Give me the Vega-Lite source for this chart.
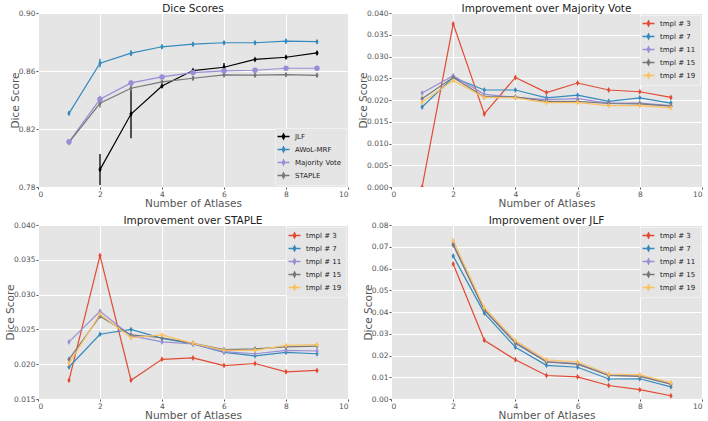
{
  "$schema": "https://vega.github.io/schema/vega-lite/v6.json",
  "padding": {"left": 5, "top": 3, "right": 0, "bottom": 0},
  "background": "white",
  "config": {
    "font": "DejaVu Sans",
    "view": {"fill": "#E5E5E5", "stroke": null},
    "axis": {"grid": true, "gridColor": "#FFFFFF", "gridWidth": 1, "domain": false, "tickColor": "#555555", "tickSize": 2, "labelColor": "#555555", "labelFont": "DejaVu Sans", "labelFontSize": 7.5, "labelPadding": 1, "labelOverlap": false, "titleFont": "DejaVu Sans", "titleFontSize": 10.5, "titleFontWeight": "normal", "titleColor": "#555555"},
    "title": {"font": "DejaVu Sans", "fontSize": 10.5, "fontWeight": "normal", "color": "#222222", "offset": -5},
    "legend": {"labelFont": "DejaVu Sans", "labelFontSize": 7, "labelColor": "#222222", "fillColor": "#E5E5E5", "strokeColor": "#F0F0F0", "padding": 4, "rowPadding": 2, "offset": 2, "cornerRadius": 0, "labelOffset": 7}
  },
  "datasets": {
    "dice": [
      {"method": "JLF", "n": 2, "score": 0.792, "lo": 0.7813, "hi": 0.8027},
      {"method": "JLF", "n": 3, "score": 0.8303, "lo": 0.8136, "hi": 0.847},
      {"method": "JLF", "n": 4, "score": 0.8497, "lo": 0.8487, "hi": 0.8507},
      {"method": "JLF", "n": 5, "score": 0.8603, "lo": 0.8595, "hi": 0.8611},
      {"method": "JLF", "n": 6, "score": 0.8626, "lo": 0.8596, "hi": 0.8656},
      {"method": "JLF", "n": 7, "score": 0.868, "lo": 0.8672, "hi": 0.8688},
      {"method": "JLF", "n": 8, "score": 0.8695, "lo": 0.869, "hi": 0.87},
      {"method": "JLF", "n": 9, "score": 0.8725, "lo": 0.8712, "hi": 0.8738},
      {"method": "AWoL-MRF", "n": 1, "score": 0.8308, "lo": 0.8293, "hi": 0.8323},
      {"method": "AWoL-MRF", "n": 2, "score": 0.8654, "lo": 0.8624, "hi": 0.8684},
      {"method": "AWoL-MRF", "n": 3, "score": 0.8723, "lo": 0.8703, "hi": 0.8743},
      {"method": "AWoL-MRF", "n": 4, "score": 0.8767, "lo": 0.8752, "hi": 0.8782},
      {"method": "AWoL-MRF", "n": 5, "score": 0.8785, "lo": 0.877, "hi": 0.88},
      {"method": "AWoL-MRF", "n": 6, "score": 0.8795, "lo": 0.8783, "hi": 0.8807},
      {"method": "AWoL-MRF", "n": 7, "score": 0.8795, "lo": 0.8783, "hi": 0.8807},
      {"method": "AWoL-MRF", "n": 8, "score": 0.8806, "lo": 0.879, "hi": 0.8822},
      {"method": "AWoL-MRF", "n": 9, "score": 0.8802, "lo": 0.879, "hi": 0.8814},
      {"method": "Majority Vote", "n": 1, "score": 0.8112, "lo": 0.81, "hi": 0.8124},
      {"method": "Majority Vote", "n": 2, "score": 0.8405, "lo": 0.838, "hi": 0.843},
      {"method": "Majority Vote", "n": 3, "score": 0.8518, "lo": 0.8503, "hi": 0.8533},
      {"method": "Majority Vote", "n": 4, "score": 0.8559, "lo": 0.8547, "hi": 0.8571},
      {"method": "Majority Vote", "n": 5, "score": 0.8589, "lo": 0.8577, "hi": 0.8601},
      {"method": "Majority Vote", "n": 6, "score": 0.8601, "lo": 0.8589, "hi": 0.8613},
      {"method": "Majority Vote", "n": 7, "score": 0.8605, "lo": 0.8593, "hi": 0.8617},
      {"method": "Majority Vote", "n": 8, "score": 0.8619, "lo": 0.8607, "hi": 0.8631},
      {"method": "Majority Vote", "n": 9, "score": 0.8619, "lo": 0.8607, "hi": 0.8631},
      {"method": "STAPLE", "n": 1, "score": 0.8107, "lo": 0.8094, "hi": 0.812},
      {"method": "STAPLE", "n": 2, "score": 0.8377, "lo": 0.8347, "hi": 0.8407},
      {"method": "STAPLE", "n": 3, "score": 0.8481, "lo": 0.8461, "hi": 0.8501},
      {"method": "STAPLE", "n": 4, "score": 0.8525, "lo": 0.8512, "hi": 0.8538},
      {"method": "STAPLE", "n": 5, "score": 0.855, "lo": 0.8535, "hi": 0.8565},
      {"method": "STAPLE", "n": 6, "score": 0.8573, "lo": 0.856, "hi": 0.8586},
      {"method": "STAPLE", "n": 7, "score": 0.8571, "lo": 0.8558, "hi": 0.8584},
      {"method": "STAPLE", "n": 8, "score": 0.8575, "lo": 0.8562, "hi": 0.8588},
      {"method": "STAPLE", "n": 9, "score": 0.857, "lo": 0.8557, "hi": 0.8583}
    ],
    "mv": [
      {"tmpl": "tmpl # 3", "n": 1, "v": 0.0}, {"tmpl": "tmpl # 3", "n": 2, "v": 0.0375}, {"tmpl": "tmpl # 3", "n": 3, "v": 0.0168}, {"tmpl": "tmpl # 3", "n": 4, "v": 0.0252}, {"tmpl": "tmpl # 3", "n": 5, "v": 0.0217}, {"tmpl": "tmpl # 3", "n": 6, "v": 0.0239}, {"tmpl": "tmpl # 3", "n": 7, "v": 0.0223}, {"tmpl": "tmpl # 3", "n": 8, "v": 0.0219}, {"tmpl": "tmpl # 3", "n": 9, "v": 0.0206},
      {"tmpl": "tmpl # 7", "n": 1, "v": 0.0184}, {"tmpl": "tmpl # 7", "n": 2, "v": 0.0252}, {"tmpl": "tmpl # 7", "n": 3, "v": 0.0223}, {"tmpl": "tmpl # 7", "n": 4, "v": 0.0223}, {"tmpl": "tmpl # 7", "n": 5, "v": 0.0205}, {"tmpl": "tmpl # 7", "n": 6, "v": 0.0211}, {"tmpl": "tmpl # 7", "n": 7, "v": 0.0197}, {"tmpl": "tmpl # 7", "n": 8, "v": 0.0205}, {"tmpl": "tmpl # 7", "n": 9, "v": 0.0193},
      {"tmpl": "tmpl # 11", "n": 1, "v": 0.0216}, {"tmpl": "tmpl # 11", "n": 2, "v": 0.0256}, {"tmpl": "tmpl # 11", "n": 3, "v": 0.0213}, {"tmpl": "tmpl # 11", "n": 4, "v": 0.0206}, {"tmpl": "tmpl # 11", "n": 5, "v": 0.0201}, {"tmpl": "tmpl # 11", "n": 6, "v": 0.0203}, {"tmpl": "tmpl # 11", "n": 7, "v": 0.0193}, {"tmpl": "tmpl # 11", "n": 8, "v": 0.0193}, {"tmpl": "tmpl # 11", "n": 9, "v": 0.0187},
      {"tmpl": "tmpl # 15", "n": 1, "v": 0.0203}, {"tmpl": "tmpl # 15", "n": 2, "v": 0.0252}, {"tmpl": "tmpl # 15", "n": 3, "v": 0.0207}, {"tmpl": "tmpl # 15", "n": 4, "v": 0.0207}, {"tmpl": "tmpl # 15", "n": 5, "v": 0.0197}, {"tmpl": "tmpl # 15", "n": 6, "v": 0.0197}, {"tmpl": "tmpl # 15", "n": 7, "v": 0.0192}, {"tmpl": "tmpl # 15", "n": 8, "v": 0.0191}, {"tmpl": "tmpl # 15", "n": 9, "v": 0.0186},
      {"tmpl": "tmpl # 19", "n": 1, "v": 0.0195}, {"tmpl": "tmpl # 19", "n": 2, "v": 0.0245}, {"tmpl": "tmpl # 19", "n": 3, "v": 0.0206}, {"tmpl": "tmpl # 19", "n": 4, "v": 0.0205}, {"tmpl": "tmpl # 19", "n": 5, "v": 0.0194}, {"tmpl": "tmpl # 19", "n": 6, "v": 0.0194}, {"tmpl": "tmpl # 19", "n": 7, "v": 0.0187}, {"tmpl": "tmpl # 19", "n": 8, "v": 0.0187}, {"tmpl": "tmpl # 19", "n": 9, "v": 0.0182}
    ],
    "staple": [
      {"tmpl": "tmpl # 3", "n": 1, "v": 0.0177}, {"tmpl": "tmpl # 3", "n": 2, "v": 0.0356}, {"tmpl": "tmpl # 3", "n": 3, "v": 0.0177}, {"tmpl": "tmpl # 3", "n": 4, "v": 0.0207}, {"tmpl": "tmpl # 3", "n": 5, "v": 0.0209}, {"tmpl": "tmpl # 3", "n": 6, "v": 0.0198}, {"tmpl": "tmpl # 3", "n": 7, "v": 0.0201}, {"tmpl": "tmpl # 3", "n": 8, "v": 0.0189}, {"tmpl": "tmpl # 3", "n": 9, "v": 0.0191},
      {"tmpl": "tmpl # 7", "n": 1, "v": 0.0196}, {"tmpl": "tmpl # 7", "n": 2, "v": 0.0243}, {"tmpl": "tmpl # 7", "n": 3, "v": 0.025}, {"tmpl": "tmpl # 7", "n": 4, "v": 0.0237}, {"tmpl": "tmpl # 7", "n": 5, "v": 0.0229}, {"tmpl": "tmpl # 7", "n": 6, "v": 0.0217}, {"tmpl": "tmpl # 7", "n": 7, "v": 0.0212}, {"tmpl": "tmpl # 7", "n": 8, "v": 0.0217}, {"tmpl": "tmpl # 7", "n": 9, "v": 0.0215},
      {"tmpl": "tmpl # 11", "n": 1, "v": 0.0232}, {"tmpl": "tmpl # 11", "n": 2, "v": 0.0276}, {"tmpl": "tmpl # 11", "n": 3, "v": 0.0241}, {"tmpl": "tmpl # 11", "n": 4, "v": 0.0232}, {"tmpl": "tmpl # 11", "n": 5, "v": 0.0229}, {"tmpl": "tmpl # 11", "n": 6, "v": 0.0218}, {"tmpl": "tmpl # 11", "n": 7, "v": 0.0215}, {"tmpl": "tmpl # 11", "n": 8, "v": 0.022}, {"tmpl": "tmpl # 11", "n": 9, "v": 0.0219},
      {"tmpl": "tmpl # 15", "n": 1, "v": 0.0207}, {"tmpl": "tmpl # 15", "n": 2, "v": 0.0269}, {"tmpl": "tmpl # 15", "n": 3, "v": 0.0242}, {"tmpl": "tmpl # 15", "n": 4, "v": 0.0238}, {"tmpl": "tmpl # 15", "n": 5, "v": 0.023}, {"tmpl": "tmpl # 15", "n": 6, "v": 0.0221}, {"tmpl": "tmpl # 15", "n": 7, "v": 0.0222}, {"tmpl": "tmpl # 15", "n": 8, "v": 0.0225}, {"tmpl": "tmpl # 15", "n": 9, "v": 0.0226},
      {"tmpl": "tmpl # 19", "n": 1, "v": 0.0201}, {"tmpl": "tmpl # 19", "n": 2, "v": 0.0272}, {"tmpl": "tmpl # 19", "n": 3, "v": 0.0238}, {"tmpl": "tmpl # 19", "n": 4, "v": 0.0242}, {"tmpl": "tmpl # 19", "n": 5, "v": 0.023}, {"tmpl": "tmpl # 19", "n": 6, "v": 0.022}, {"tmpl": "tmpl # 19", "n": 7, "v": 0.022}, {"tmpl": "tmpl # 19", "n": 8, "v": 0.0227}, {"tmpl": "tmpl # 19", "n": 9, "v": 0.0228}
    ],
    "jlf": [
      {"tmpl": "tmpl # 3", "n": 2, "v": 0.0621}, {"tmpl": "tmpl # 3", "n": 3, "v": 0.027}, {"tmpl": "tmpl # 3", "n": 4, "v": 0.018}, {"tmpl": "tmpl # 3", "n": 5, "v": 0.0108}, {"tmpl": "tmpl # 3", "n": 6, "v": 0.0102}, {"tmpl": "tmpl # 3", "n": 7, "v": 0.0062}, {"tmpl": "tmpl # 3", "n": 8, "v": 0.0043}, {"tmpl": "tmpl # 3", "n": 9, "v": 0.0015},
      {"tmpl": "tmpl # 7", "n": 2, "v": 0.0657}, {"tmpl": "tmpl # 7", "n": 3, "v": 0.0395}, {"tmpl": "tmpl # 7", "n": 4, "v": 0.0238}, {"tmpl": "tmpl # 7", "n": 5, "v": 0.0155}, {"tmpl": "tmpl # 7", "n": 6, "v": 0.0146}, {"tmpl": "tmpl # 7", "n": 7, "v": 0.0092}, {"tmpl": "tmpl # 7", "n": 8, "v": 0.0093}, {"tmpl": "tmpl # 7", "n": 9, "v": 0.0056},
      {"tmpl": "tmpl # 11", "n": 2, "v": 0.0715}, {"tmpl": "tmpl # 11", "n": 3, "v": 0.0412}, {"tmpl": "tmpl # 11", "n": 4, "v": 0.0262}, {"tmpl": "tmpl # 11", "n": 5, "v": 0.0172}, {"tmpl": "tmpl # 11", "n": 6, "v": 0.0163}, {"tmpl": "tmpl # 11", "n": 7, "v": 0.011}, {"tmpl": "tmpl # 11", "n": 8, "v": 0.0106}, {"tmpl": "tmpl # 11", "n": 9, "v": 0.007},
      {"tmpl": "tmpl # 15", "n": 2, "v": 0.0708}, {"tmpl": "tmpl # 15", "n": 3, "v": 0.0408}, {"tmpl": "tmpl # 15", "n": 4, "v": 0.0256}, {"tmpl": "tmpl # 15", "n": 5, "v": 0.017}, {"tmpl": "tmpl # 15", "n": 6, "v": 0.016}, {"tmpl": "tmpl # 15", "n": 7, "v": 0.0108}, {"tmpl": "tmpl # 15", "n": 8, "v": 0.0104}, {"tmpl": "tmpl # 15", "n": 9, "v": 0.0068},
      {"tmpl": "tmpl # 19", "n": 2, "v": 0.0728}, {"tmpl": "tmpl # 19", "n": 3, "v": 0.042}, {"tmpl": "tmpl # 19", "n": 4, "v": 0.0268}, {"tmpl": "tmpl # 19", "n": 5, "v": 0.018}, {"tmpl": "tmpl # 19", "n": 6, "v": 0.017}, {"tmpl": "tmpl # 19", "n": 7, "v": 0.0115}, {"tmpl": "tmpl # 19", "n": 8, "v": 0.0111}, {"tmpl": "tmpl # 19", "n": 9, "v": 0.0075}
    ]
  },
  "columns": 2,
  "spacing": {"row": 38, "column": 43},
  "bounds": "flush",
  "resolve": {"scale": {"color": "independent", "x": "independent", "y": "independent"}, "legend": {"color": "independent"}},
  "concat": [
        {
          "width": 310, "height": 174,
          "title": "Dice Scores",
          "data": {"name": "dice"},
          "encoding": {
            "x": {"field": "n", "type": "quantitative", "scale": {"domain": [0, 10], "nice": false}, "axis": {"values": [0, 2, 4, 6, 8, 10], "title": "Number of Atlases", "titlePadding": 1}},
            "color": {"field": "method", "type": "nominal", "scale": {"domain": ["JLF", "AWoL-MRF", "Majority Vote", "STAPLE"], "range": ["#000000", "#348ABD", "#988ED5", "#777777"]}, "legend": {"title": null, "orient": "bottom-right", "symbolType": "M-1.6,0H1.6M0,-0.7L0.35,0L0,0.7L-0.35,0Z", "symbolSize": 56, "symbolStrokeWidth": 1.3}}
          },
          "layer": [
            {"mark": {"type": "rule", "strokeWidth": 1.3, "clip": true}, "encoding": {"y": {"field": "lo", "type": "quantitative", "scale": {"domain": [0.78, 0.9], "nice": false}, "axis": {"values": [0.78, 0.8, 0.82, 0.84, 0.86, 0.88, 0.9], "format": ".2f", "title": "Dice Score", "titlePadding": -2, "labelOverlap": false}}, "y2": {"field": "hi"}}},
            {"mark": {"type": "line", "strokeWidth": 1.2, "clip": true}, "encoding": {"y": {"field": "score", "type": "quantitative"}}},
            {"transform": [{"filter": "datum.method != 'Majority Vote'"}], "mark": {"type": "point", "filled": true, "size": 36, "opacity": 1, "clip": true, "shape": "M0,-1L0.55,0L0,1L-0.55,0Z"}, "encoding": {"y": {"field": "score", "type": "quantitative"}}},
            {"transform": [{"filter": "datum.method == 'Majority Vote'"}], "mark": {"type": "point", "filled": true, "size": 30, "opacity": 1, "clip": true, "shape": "circle"}, "encoding": {"y": {"field": "score", "type": "quantitative"}}}
          ]
        },
        {
          "width": 311, "height": 174,
          "title": "Improvement over Majority Vote",
          "data": {"name": "mv"},
          "encoding": {
            "x": {"field": "n", "type": "quantitative", "scale": {"domain": [0, 10], "nice": false}, "axis": {"values": [0, 2, 4, 6, 8, 10], "title": "Number of Atlases", "titlePadding": 1}},
            "y": {"field": "v", "type": "quantitative", "scale": {"domain": [0, 0.04], "nice": false}, "axis": {"values": [0, 0.005, 0.01, 0.015, 0.02, 0.025, 0.03, 0.035, 0.04], "format": ".3f", "title": "Dice Score", "titlePadding": -2}},
            "color": {"field": "tmpl", "type": "nominal", "scale": {"domain": ["tmpl # 3", "tmpl # 7", "tmpl # 11", "tmpl # 15", "tmpl # 19"], "range": ["#E24A33", "#348ABD", "#988ED5", "#777777", "#FBC15E"]}, "legend": {"title": null, "orient": "top-right", "symbolType": "M-1.6,0H1.6M0,-0.7L0.35,0L0,0.7L-0.35,0Z", "symbolSize": 56, "symbolStrokeWidth": 1.3}}
          },
          "layer": [
            {"mark": {"type": "line", "strokeWidth": 1.2, "clip": true}},
            {"mark": {"type": "point", "filled": true, "size": 36, "opacity": 1, "clip": true, "shape": "M0,-1L0.55,0L0,1L-0.55,0Z"}}
          ]
        },
        {
          "width": 310, "height": 174,
          "title": "Improvement over STAPLE",
          "data": {"name": "staple"},
          "encoding": {
            "x": {"field": "n", "type": "quantitative", "scale": {"domain": [0, 10], "nice": false}, "axis": {"values": [0, 2, 4, 6, 8, 10], "title": "Number of Atlases", "titlePadding": 1}},
            "y": {"field": "v", "type": "quantitative", "scale": {"domain": [0.015, 0.04], "nice": false}, "axis": {"values": [0.015, 0.02, 0.025, 0.03, 0.035, 0.04], "format": ".3f", "title": "Dice Score", "titlePadding": -2}},
            "color": {"field": "tmpl", "type": "nominal", "scale": {"domain": ["tmpl # 3", "tmpl # 7", "tmpl # 11", "tmpl # 15", "tmpl # 19"], "range": ["#E24A33", "#348ABD", "#988ED5", "#777777", "#FBC15E"]}, "legend": {"title": null, "orient": "top-right", "symbolType": "M-1.6,0H1.6M0,-0.7L0.35,0L0,0.7L-0.35,0Z", "symbolSize": 56, "symbolStrokeWidth": 1.3}}
          },
          "layer": [
            {"mark": {"type": "line", "strokeWidth": 1.2, "clip": true}},
            {"mark": {"type": "point", "filled": true, "size": 36, "opacity": 1, "clip": true, "shape": "M0,-1L0.55,0L0,1L-0.55,0Z"}}
          ]
        },
        {
          "width": 311, "height": 174,
          "title": "Improvement over JLF",
          "data": {"name": "jlf"},
          "encoding": {
            "x": {"field": "n", "type": "quantitative", "scale": {"domain": [0, 10], "nice": false}, "axis": {"values": [0, 2, 4, 6, 8, 10], "title": "Number of Atlases", "titlePadding": 1}},
            "y": {"field": "v", "type": "quantitative", "scale": {"domain": [0, 0.08], "nice": false}, "axis": {"values": [0, 0.01, 0.02, 0.03, 0.04, 0.05, 0.06, 0.07, 0.08], "format": ".2f", "title": "Dice Score", "titlePadding": -2}},
            "color": {"field": "tmpl", "type": "nominal", "scale": {"domain": ["tmpl # 3", "tmpl # 7", "tmpl # 11", "tmpl # 15", "tmpl # 19"], "range": ["#E24A33", "#348ABD", "#988ED5", "#777777", "#FBC15E"]}, "legend": {"title": null, "orient": "top-right", "symbolType": "M-1.6,0H1.6M0,-0.7L0.35,0L0,0.7L-0.35,0Z", "symbolSize": 56, "symbolStrokeWidth": 1.3}}
          },
          "layer": [
            {"mark": {"type": "line", "strokeWidth": 1.2, "clip": true}},
            {"mark": {"type": "point", "filled": true, "size": 36, "opacity": 1, "clip": true, "shape": "M0,-1L0.55,0L0,1L-0.55,0Z"}}
          ]
        }
  ]
}
